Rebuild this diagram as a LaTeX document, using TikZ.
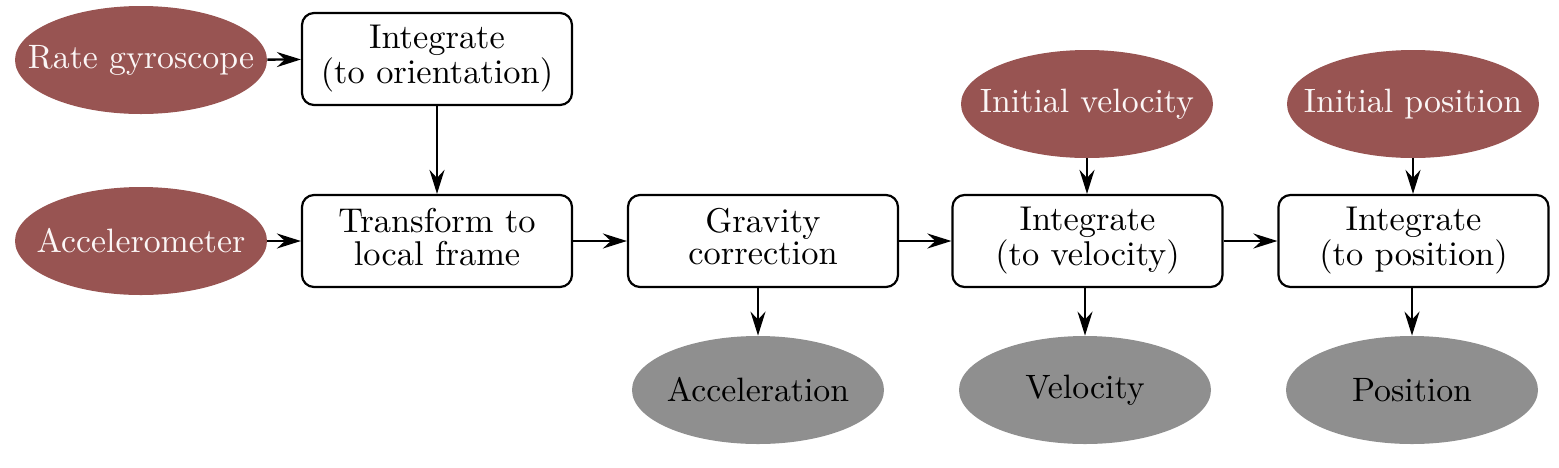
\documentclass[tikz,border=0pt]{standalone}
\usetikzlibrary{shapes.geometric,arrows.meta}
\definecolor{inred}{HTML}{985452}
\definecolor{outgray}{HTML}{8F8F8F}
\definecolor{intext}{HTML}{FBF6F6}
\newcommand{\bigtext}[1]{\scalebox{1.72}{\fontsize{10}{10}\selectfont\renewcommand{\arraystretch}{0.86}\begin{tabular}{@{}c@{}}#1\end{tabular}}}
\newcommand{\elltext}[1]{\makebox[0pt]{\scalebox{1.69}{\fontsize{10}{10}\selectfont #1}}}
\begin{document}
\begin{tikzpicture}[
  procbox/.style={draw=black, line width=1.1pt, rounded corners=6pt, fill=white,
    minimum width=135pt, minimum height=46pt, inner sep=0pt, align=center},
  inell/.style={ellipse, fill=inred, text=intext, minimum width=126pt, minimum height=54pt, inner sep=0pt},
  outell/.style={ellipse, fill=outgray, text=black, minimum width=126pt, minimum height=54pt, inner sep=0pt},
  conn/.style={line width=1.2pt, -{Stealth[length=12pt,width=7.5pt,inset=4pt]}}
]
\useasboundingbox (0pt,0pt) rectangle (779.5pt,-233.5pt);
\node[inell] (gyro) at (70.5pt,-30pt) {\elltext{Rate gyroscope}};
\node[inell] (acc) at (70.5pt,-120.5pt) {\elltext{Accelerometer}};
\node[procbox] (into) at (218.5pt,-29.5pt) {\bigtext{Integrate\\(to orientation)}};
\node[procbox] (trans) at (218.5pt,-120.5pt) {\bigtext{Transform to\\local frame}};
\node[procbox] (grav) at (381.5pt,-120.5pt) {\bigtext{Gravity\\correction}};
\node[procbox] (intv) at (543.75pt,-120.5pt) {\bigtext{Integrate\\(to velocity)}};
\node[procbox] (intp) at (706.75pt,-120.5pt) {\bigtext{Integrate\\(to position)}};
\node[inell] (iniv) at (543.5pt,-52pt) {\elltext{Initial velocity}};
\node[inell] (inip) at (706.5pt,-52pt) {\elltext{Initial position}};
\node[outell] (accel) at (379pt,-195pt) {\elltext{Acceleration}};
\node[outell] (vel) at (542.5pt,-195pt) {\elltext{Velocity}};
\node[outell] (pos) at (706pt,-195pt) {\elltext{Position}};
\draw[conn] (gyro) -- (into);
\draw[conn] (acc) -- (trans);
\draw[conn] (into) -- (trans);
\draw[conn] (trans) -- (grav);
\draw[conn] (grav) -- (intv);
\draw[conn] (intv) -- (intp);
\draw[conn] (iniv) -- (iniv |- intv.north);
\draw[conn] (inip) -- (inip |- intp.north);
\draw[conn] (accel |- grav.south) -- (accel);
\draw[conn] (vel |- intv.south) -- (vel);
\draw[conn] (pos |- intp.south) -- (pos);
\end{tikzpicture}
\end{document}
